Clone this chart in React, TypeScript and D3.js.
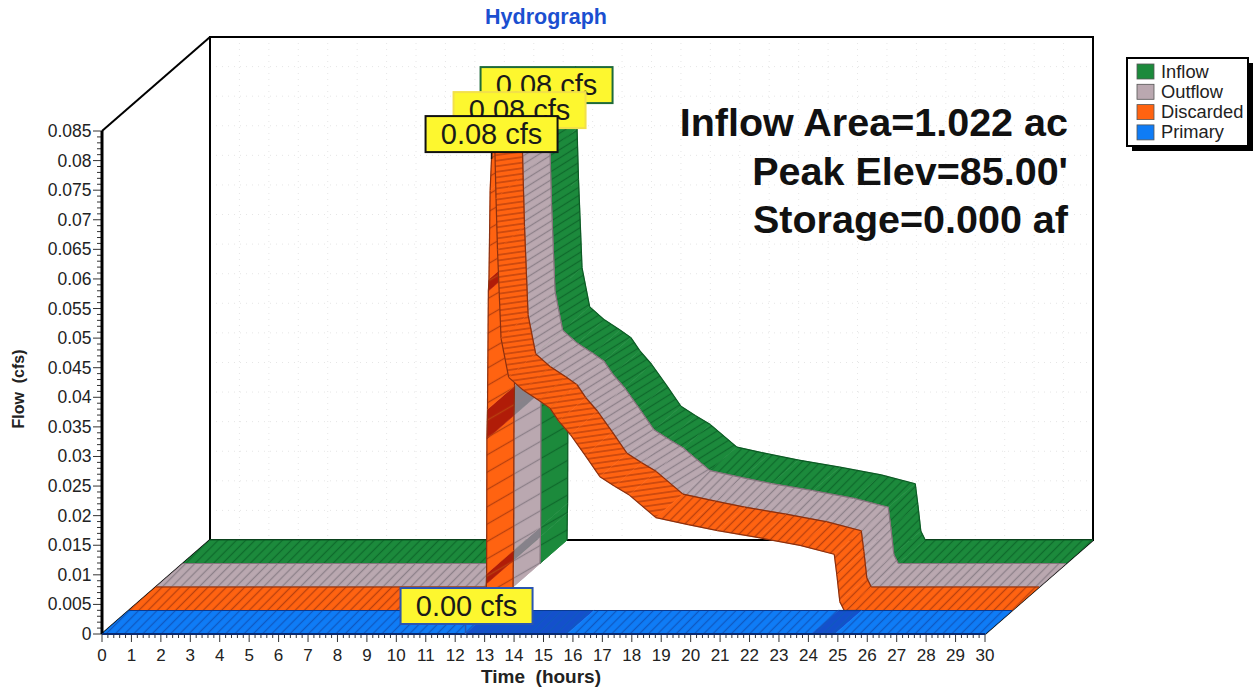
import * as d3 from "d3";

const width = 1254;
const height = 689;

// values; the three routed flows share one shape
const hours = [
  0, 12.13, 12.14, 12.15, 12.16, 12.18, 12.21, 12.23, 12.27, 12.33, 12.42, 12.47, 12.52, 12.64,
  12.9, 13.4, 13.93, 14.3, 14.6, 15, 15.5, 16, 16.5, 17, 17.9, 19, 20, 21.4, 22.8, 23.96, 24.05, 24.15, 24.3, 30,
];
const inflow = [
  0, 0, 0.0045, 0.0062, 0.029, 0.034, 0.054, 0.056, 0.071, 0.078, 0.08, 0.0696, 0.0609, 0.046,
  0.0394, 0.0372, 0.0355, 0.0342, 0.032, 0.0297, 0.0262, 0.0226, 0.021, 0.0195, 0.0157, 0.0145, 0.0135, 0.0123, 0.011, 0.0095, 0.006, 0.0015, 0, 0,
];
const outflow = inflow;
const discarded = inflow;

const primaryHours = [0, 12.33, 15.8, 24.1, 24.9, 30];
const primaryFlow = [0, 0, 0, 0, 0, 0];
const primaryDark = [false, true, false, true, false];

const darkRiseBands = [
  [0.0045, 0.0062],
  [0.029, 0.034],
  [0.054, 0.056],
];

const xTicks = d3.range(0, 31);
const yTicks = d3.range(0, 18).map((i) => i * 0.005);

const legendNames = ["Inflow", "Outflow", "Discarded", "Primary"];
const noteLines = ["Inflow Area=1.022 ac", "Peak Elev=85.00'", "Storage=0.000 af"];

const palette: Record<string, { fill: string; dark: string; hatch: string; edge: string }> = {
  Inflow: { fill: "#1c8a3c", dark: "#1c8a3c", hatch: "#0f6a2c", edge: "#0d5a25" },
  Outflow: { fill: "#baa8b0", dark: "#86828a", hatch: "#8c8088", edge: "#85757d" },
  Discarded: { fill: "#ff6311", dark: "#b01c08", hatch: "#b8400e", edge: "#8a3010" },
  Primary: { fill: "#0f7cf6", dark: "#1450cc", hatch: "#0f58c0", edge: "#0a3a90" },
};

const x = d3.scaleLinear().domain([0, 30]).range([102, 985]);
const y = d3.scaleLinear().domain([0, 0.085]).range([634, 131]);
const depthX = 27;
const depthY = -23.5;

const fmtY = (v: number) => (v === 0 ? "0" : d3.format(".3~f")(v));

type Kind = "flat" | "rise" | "fall";

const Ribbon = ({
  name,
  depth,
  ts,
  vs,
  dark,
}: {
  name: string;
  depth: number;
  ts: number[];
  vs: number[];
  dark?: boolean[];
}) => {
  const c = palette[name];
  const px = (t: number, d: number) => x(t) + d * depthX;
  const py = (v: number, d: number) => y(v) + d * depthY;
  const segments = d3.pairs(d3.range(ts.length));
  return (
    <g>
      {segments.map(([a, b]) => {
        const rising = vs[b] > vs[a];
        const slope = (vs[a] - vs[b]) / (ts[b] - ts[a]);
        const kind: Kind = rising ? "rise" : slope > 0.002 && ts[b] < 20 ? "fall" : "flat";
        const mid = (vs[a] + vs[b]) / 2;
        const isDark = dark
          ? dark[a]
          : rising && name !== "Inflow" && darkRiseBands.some(([lo, hi]) => mid > lo && mid < hi);
        const poly = [
          [px(ts[a], depth), py(vs[a], depth)],
          [px(ts[b], depth), py(vs[b], depth)],
          [px(ts[b], depth + 1), py(vs[b], depth + 1)],
          [px(ts[a], depth + 1), py(vs[a], depth + 1)],
        ];
        const points = poly.map((p) => p.join(",")).join(" ");
        const fill = isDark ? c.dark : c.fill;
        return (
          <g key={a}>
            <polygon points={points} fill={fill} stroke={fill} strokeWidth={0.6} />
            <polygon points={points} fill={`url(#hatch-${name}-${kind})`} />
            <line x1={poly[0][0]} y1={poly[0][1]} x2={poly[1][0]} y2={poly[1][1]} stroke={c.edge} strokeWidth={1.2} />
            <line x1={poly[3][0]} y1={poly[3][1]} x2={poly[2][0]} y2={poly[2][1]} stroke={c.edge} strokeWidth={1.2} />
          </g>
        );
      })}
    </g>
  );
};

const Callout = ({
  left,
  top,
  border,
  text,
  tipX,
  tipY,
}: {
  left: number;
  top: number;
  border: string;
  text: string;
  tipX: number;
  tipY: number;
}) => (
  <g>
    <line x1={tipX} y1={top + 30} x2={tipX} y2={tipY} stroke={border} strokeWidth={1.5} />
    <rect x={left} y={top} width={132} height={36} fill="#fdf72f" stroke={border} strokeWidth={2} />
    <text x={left + 66} y={top + 28} fontSize={29} textAnchor="middle" fill="#1a1a1a">
      {text}
    </text>
  </g>
);

const App = () => {
  const peakHour = 12.42;
  const peak = d3.max(inflow) as number;
  const pattern = (name: string, kind: Kind) => {
    const c = palette[name];
    const angle = kind === "flat" ? -45 : kind === "fall" ? (name === "Discarded" ? -8 : -32) : -30;
    const gap = kind === "flat" ? 6.5 : kind === "fall" ? (name === "Discarded" ? 5.5 : 7) : 15;
    return (
      <pattern
        key={`${name}-${kind}`}
        id={`hatch-${name}-${kind}`}
        patternUnits="userSpaceOnUse"
        width={gap}
        height={gap}
        patternTransform={`rotate(${angle})`}
      >
        <line x1={0} y1={gap / 2} x2={gap} y2={gap / 2} stroke={c.hatch} strokeWidth={1.3} />
      </pattern>
    );
  };

  return (
    <svg
      width={width}
      height={height}
      viewBox={`0 0 ${width} ${height}`}
      style={{ position: "absolute", left: 0, top: 0, fontFamily: "'Liberation Sans', Arial, sans-serif" }}
    >
      <defs>
        {legendNames.flatMap((n) => (["flat", "rise", "fall"] as Kind[]).map((k) => pattern(n, k)))}
      </defs>
      <rect width={width} height={height} fill="#fff" />

      <text x={546} y={24} fontSize={21.5} fontWeight="bold" fill="#1b4fd0" textAnchor="middle">
        Hydrograph
      </text>

      {/* back wall grid */}
      <g stroke="#e6e6e6" strokeWidth={1} strokeDasharray="1 5">
        {xTicks.map((t) => (
          <line key={t} x1={x(t) + 4 * depthX} x2={x(t) + 4 * depthX} y1={y(0.085) + 4 * depthY} y2={y(0) + 4 * depthY} />
        ))}
        {yTicks.map((v) => (
          <line key={v} x1={x(0) + 4 * depthX} x2={x(30) + 4 * depthX} y1={y(v) + 4 * depthY} y2={y(v) + 4 * depthY} />
        ))}
      </g>

      {/* frame */}
      <g fill="none" stroke="#000" strokeWidth={2}>
        <rect x={x(0) + 4 * depthX} y={y(0.085) + 4 * depthY} width={x(30) - x(0)} height={y(0) - y(0.085)} />
        <line x1={x(0)} y1={y(0.085)} x2={x(0) + 4 * depthX} y2={y(0.085) + 4 * depthY} />
        <line x1={x(30)} y1={y(0)} x2={x(30) + 4 * depthX} y2={y(0) + 4 * depthY} />
        <line x1={x(0)} y1={y(0)} x2={x(0) + 4 * depthX} y2={y(0) + 4 * depthY} />
      </g>

      <Ribbon name="Inflow" depth={3} ts={hours} vs={inflow} />
      <Ribbon name="Outflow" depth={2} ts={hours} vs={outflow} />
      <Ribbon name="Discarded" depth={1} ts={hours} vs={discarded} />
      <Ribbon name="Primary" depth={0} ts={primaryHours} vs={primaryFlow} dark={primaryDark} />

      {/* axes */}
      <g stroke="#333" strokeWidth={1}>
        {d3.range(0, 85.5).map((i) => {
          const v = i * 0.001;
          const major = i % 5 === 0;
          return <line key={i} x1={major ? 93 : 97} x2={x(0)} y1={y(v)} y2={y(v)} />;
        })}
        {d3.range(0, 150.5).map((i) => {
          const major = i % 5 === 0;
          return <line key={i} x1={x(i / 5)} x2={x(i / 5)} y1={y(0)} y2={y(0) + (major ? 8 : 4)} />;
        })}
      </g>
      <line x1={x(0)} x2={x(0)} y1={y(0.085)} y2={y(0)} stroke="#000" strokeWidth={3} />
      <line x1={x(0)} x2={x(30)} y1={y(0)} y2={y(0)} stroke="#0a2a70" strokeWidth={2} />

      <g fill="#222">
        {yTicks.map((v) => (
          <text key={v} x={91.5} y={y(v) + 6} fontSize={17.5} textAnchor="end">
            {fmtY(v)}
          </text>
        ))}
        {xTicks.map((t) => (
          <text key={t} x={x(t)} y={661} fontSize={17} textAnchor="middle">
            {t}
          </text>
        ))}
      </g>
      <text x={541} y={683} fontSize={19} fontWeight="bold" fill="#222" textAnchor="middle" style={{ whiteSpace: "pre" }}>
        Time  (hours)
      </text>
      <text
        transform="translate(24,389) rotate(-90)"
        fontSize={16}
        fontWeight="bold"
        fill="#222"
        textAnchor="middle"
        style={{ whiteSpace: "pre" }}
      >
        Flow  (cfs)
      </text>

      {/* notes */}
      <g fontSize={39.5} fontWeight="bold" fill="#111" textAnchor="end">
        {noteLines.map((line, i) => (
          <text key={line} x={1068} y={136 + i * 48.5}>
            {line}
          </text>
        ))}
      </g>

      {/* callouts, latest series on top */}
      <Callout left={x(peakHour) + 3 * depthX - 68} top={y(peak) + 3 * depthY - 23} border="#1e6a3a" text="0.08 cfs" tipX={x(peakHour) + 3 * depthX} tipY={y(peak) + 3 * depthY} />
      <Callout left={x(peakHour) + 2 * depthX - 68} top={y(peak) + 2 * depthY - 21.5} border="#f2e04a" text="0.08 cfs" tipX={x(peakHour) + 2 * depthX} tipY={y(peak) + 2 * depthY} />
      <Callout left={x(peakHour) + depthX - 69} top={y(peak) + depthY - 21} border="#111" text="0.08 cfs" tipX={x(peakHour) + depthX - 3} tipY={y(peak) + depthY + 22} />
      <Callout left={x(peakHour) - 67} top={y(0) - 46} border="#2a55b0" text="0.00 cfs" tipX={x(peakHour) - 2} tipY={y(0)} />

      {/* legend */}
      <rect x={1132} y={63} width={121} height={88} fill="#000" />
      <rect x={1127} y={58} width={121} height={88} fill="#fff" stroke="#000" strokeWidth={2} />
      {legendNames.map((name, i) => (
        <g key={name}>
          <rect x={1137} y={64 + i * 20.3} width={17} height={15} fill={palette[name].fill} stroke="#555" strokeWidth={0.8} />
          <text x={1161} y={77.5 + i * 20.3} fontSize={18.3} fill="#222">
            {name}
          </text>
        </g>
      ))}
    </svg>
  );
};

export default App;
